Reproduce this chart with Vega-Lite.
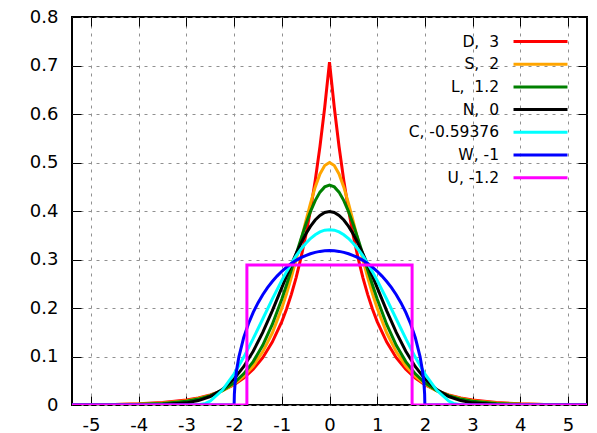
{
"$schema":"https://vega.github.io/schema/vega-lite/v6.json",
"width":515,"height":388,
"autosize":{"type":"none"},
"padding":{"left":72,"top":17,"right":10,"bottom":28},
"background":"white",
"config":{"view":{"stroke":"black","strokeWidth":2},"font":"DejaVu Sans",
"axis":{"labelFont":"DejaVu Sans","labelFontSize":18,"labelColor":"black","tickColor":"black","tickWidth":1,"tickSize":-9,"domain":false,"title":null,"gridColor":"#909090","gridDash":[3,5],"gridWidth":1,"gridOpacity":1}},
"layer":[
{"data":{"values":[{"x":0,"y":0}]},"mark":{"type":"point","opacity":0},
"encoding":{
"x":{"field":"x","type":"quantitative","scale":{"domain":[-5.4,5.4],"nice":false,"zero":false},"axis":{"orient":"top","labels":false,"grid":false,"values":[-5,-4,-3,-2,-1,0,1,2,3,4,5]}},
"y":{"field":"y","type":"quantitative","scale":{"domain":[0,0.8],"nice":false},"axis":{"orient":"right","labels":false,"grid":false,"values":[0,0.1,0.2,0.3,0.4,0.5,0.6,0.7,0.8]}}}},
{"data":{"values":[
{"k":"D","x":-5.4,"y":0.0003},{"k":"D","x":-5,"y":0.0006},{"k":"D","x":-4.5,"y":0.0012},{"k":"D","x":-4,"y":0.0025},{"k":"D","x":-3.5,"y":0.005},{"k":"D","x":-3,"y":0.0102},{"k":"D","x":-2.75,"y":0.0145},{"k":"D","x":-2.5,"y":0.0206},{"k":"D","x":-2.25,"y":0.0294},{"k":"D","x":-2,"y":0.0418},{"k":"D","x":-1.8,"y":0.0555},{"k":"D","x":-1.6,"y":0.0736},{"k":"D","x":-1.4,"y":0.0976},{"k":"D","x":-1.2,"y":0.1296},{"k":"D","x":-1,"y":0.1719},{"k":"D","x":-0.9,"y":0.198},{"k":"D","x":-0.8,"y":0.2281},{"k":"D","x":-0.7,"y":0.2628},{"k":"D","x":-0.6,"y":0.3027},{"k":"D","x":-0.5,"y":0.3487},{"k":"D","x":-0.4,"y":0.4016},{"k":"D","x":-0.3,"y":0.4626},{"k":"D","x":-0.2,"y":0.5329},{"k":"D","x":-0.1,"y":0.6139},{"k":"D","x":0,"y":0.7071},{"k":"D","x":0.1,"y":0.6139},{"k":"D","x":0.2,"y":0.5329},{"k":"D","x":0.3,"y":0.4626},{"k":"D","x":0.4,"y":0.4016},{"k":"D","x":0.5,"y":0.3487},{"k":"D","x":0.6,"y":0.3027},{"k":"D","x":0.7,"y":0.2628},{"k":"D","x":0.8,"y":0.2281},{"k":"D","x":0.9,"y":0.198},{"k":"D","x":1,"y":0.1719},{"k":"D","x":1.2,"y":0.1296},{"k":"D","x":1.4,"y":0.0976},{"k":"D","x":1.6,"y":0.0736},{"k":"D","x":1.8,"y":0.0555},{"k":"D","x":2,"y":0.0418},{"k":"D","x":2.25,"y":0.0294},{"k":"D","x":2.5,"y":0.0206},{"k":"D","x":2.75,"y":0.0145},{"k":"D","x":3,"y":0.0102},{"k":"D","x":3.5,"y":0.005},{"k":"D","x":4,"y":0.0025},{"k":"D","x":4.5,"y":0.0012},{"k":"D","x":5,"y":0.0006},{"k":"D","x":5.4,"y":0.0003},
{"k":"S","x":-5.4,"y":0.0002},{"k":"S","x":-5,"y":0.0004},{"k":"S","x":-4.5,"y":0.0009},{"k":"S","x":-4,"y":0.0019},{"k":"S","x":-3.5,"y":0.0041},{"k":"S","x":-3,"y":0.009},{"k":"S","x":-2.75,"y":0.0133},{"k":"S","x":-2.5,"y":0.0197},{"k":"S","x":-2.25,"y":0.0292},{"k":"S","x":-2,"y":0.0431},{"k":"S","x":-1.8,"y":0.059},{"k":"S","x":-1.6,"y":0.0805},{"k":"S","x":-1.4,"y":0.1096},{"k":"S","x":-1.2,"y":0.1484},{"k":"S","x":-1,"y":0.1993},{"k":"S","x":-0.9,"y":0.2297},{"k":"S","x":-0.8,"y":0.2633},{"k":"S","x":-0.7,"y":0.2998},{"k":"S","x":-0.6,"y":0.3383},{"k":"S","x":-0.5,"y":0.3775},{"k":"S","x":-0.4,"y":0.4153},{"k":"S","x":-0.3,"y":0.4492},{"k":"S","x":-0.2,"y":0.4763},{"k":"S","x":-0.1,"y":0.4939},{"k":"S","x":0,"y":0.5},{"k":"S","x":0.1,"y":0.4939},{"k":"S","x":0.2,"y":0.4763},{"k":"S","x":0.3,"y":0.4492},{"k":"S","x":0.4,"y":0.4153},{"k":"S","x":0.5,"y":0.3775},{"k":"S","x":0.6,"y":0.3383},{"k":"S","x":0.7,"y":0.2998},{"k":"S","x":0.8,"y":0.2633},{"k":"S","x":0.9,"y":0.2297},{"k":"S","x":1,"y":0.1993},{"k":"S","x":1.2,"y":0.1484},{"k":"S","x":1.4,"y":0.1096},{"k":"S","x":1.6,"y":0.0805},{"k":"S","x":1.8,"y":0.059},{"k":"S","x":2,"y":0.0431},{"k":"S","x":2.25,"y":0.0292},{"k":"S","x":2.5,"y":0.0197},{"k":"S","x":2.75,"y":0.0133},{"k":"S","x":3,"y":0.009},{"k":"S","x":3.5,"y":0.0041},{"k":"S","x":4,"y":0.0019},{"k":"S","x":4.5,"y":0.0009},{"k":"S","x":5,"y":0.0004},{"k":"S","x":5.4,"y":0.0002},
{"k":"L","x":-5.4,"y":0.0001},{"k":"L","x":-5,"y":0.0002},{"k":"L","x":-4.5,"y":0.0005},{"k":"L","x":-4,"y":0.0013},{"k":"L","x":-3.5,"y":0.0032},{"k":"L","x":-3,"y":0.0078},{"k":"L","x":-2.75,"y":0.0122},{"k":"L","x":-2.5,"y":0.0191},{"k":"L","x":-2.25,"y":0.0296},{"k":"L","x":-2,"y":0.0457},{"k":"L","x":-1.8,"y":0.0643},{"k":"L","x":-1.6,"y":0.0895},{"k":"L","x":-1.4,"y":0.123},{"k":"L","x":-1.2,"y":0.166},{"k":"L","x":-1,"y":0.2186},{"k":"L","x":-0.9,"y":0.2481},{"k":"L","x":-0.8,"y":0.279},{"k":"L","x":-0.7,"y":0.3106},{"k":"L","x":-0.6,"y":0.3418},{"k":"L","x":-0.5,"y":0.3717},{"k":"L","x":-0.4,"y":0.3987},{"k":"L","x":-0.3,"y":0.4215},{"k":"L","x":-0.2,"y":0.4389},{"k":"L","x":-0.1,"y":0.4497},{"k":"L","x":0,"y":0.4535},{"k":"L","x":0.1,"y":0.4497},{"k":"L","x":0.2,"y":0.4389},{"k":"L","x":0.3,"y":0.4215},{"k":"L","x":0.4,"y":0.3987},{"k":"L","x":0.5,"y":0.3717},{"k":"L","x":0.6,"y":0.3418},{"k":"L","x":0.7,"y":0.3106},{"k":"L","x":0.8,"y":0.279},{"k":"L","x":0.9,"y":0.2481},{"k":"L","x":1,"y":0.2186},{"k":"L","x":1.2,"y":0.166},{"k":"L","x":1.4,"y":0.123},{"k":"L","x":1.6,"y":0.0895},{"k":"L","x":1.8,"y":0.0643},{"k":"L","x":2,"y":0.0457},{"k":"L","x":2.25,"y":0.0296},{"k":"L","x":2.5,"y":0.0191},{"k":"L","x":2.75,"y":0.0122},{"k":"L","x":3,"y":0.0078},{"k":"L","x":3.5,"y":0.0032},{"k":"L","x":4,"y":0.0013},{"k":"L","x":4.5,"y":0.0005},{"k":"L","x":5,"y":0.0002},{"k":"L","x":5.4,"y":0.0001},
{"k":"N","x":-5.4,"y":0},{"k":"N","x":-5,"y":0},{"k":"N","x":-4.5,"y":0},{"k":"N","x":-4,"y":0.0001},{"k":"N","x":-3.5,"y":0.0009},{"k":"N","x":-3,"y":0.0044},{"k":"N","x":-2.75,"y":0.0091},{"k":"N","x":-2.5,"y":0.0175},{"k":"N","x":-2.25,"y":0.0317},{"k":"N","x":-2,"y":0.054},{"k":"N","x":-1.8,"y":0.079},{"k":"N","x":-1.6,"y":0.1109},{"k":"N","x":-1.4,"y":0.1497},{"k":"N","x":-1.2,"y":0.1942},{"k":"N","x":-1,"y":0.242},{"k":"N","x":-0.9,"y":0.2661},{"k":"N","x":-0.8,"y":0.2897},{"k":"N","x":-0.7,"y":0.3123},{"k":"N","x":-0.6,"y":0.3332},{"k":"N","x":-0.5,"y":0.3521},{"k":"N","x":-0.4,"y":0.3683},{"k":"N","x":-0.3,"y":0.3814},{"k":"N","x":-0.2,"y":0.391},{"k":"N","x":-0.1,"y":0.397},{"k":"N","x":0,"y":0.3989},{"k":"N","x":0.1,"y":0.397},{"k":"N","x":0.2,"y":0.391},{"k":"N","x":0.3,"y":0.3814},{"k":"N","x":0.4,"y":0.3683},{"k":"N","x":0.5,"y":0.3521},{"k":"N","x":0.6,"y":0.3332},{"k":"N","x":0.7,"y":0.3123},{"k":"N","x":0.8,"y":0.2897},{"k":"N","x":0.9,"y":0.2661},{"k":"N","x":1,"y":0.242},{"k":"N","x":1.2,"y":0.1942},{"k":"N","x":1.4,"y":0.1497},{"k":"N","x":1.6,"y":0.1109},{"k":"N","x":1.8,"y":0.079},{"k":"N","x":2,"y":0.054},{"k":"N","x":2.25,"y":0.0317},{"k":"N","x":2.5,"y":0.0175},{"k":"N","x":2.75,"y":0.0091},{"k":"N","x":3,"y":0.0044},{"k":"N","x":3.5,"y":0.0009},{"k":"N","x":4,"y":0.0001},{"k":"N","x":4.5,"y":0},{"k":"N","x":5,"y":0},{"k":"N","x":5.4,"y":0},
{"k":"C","x":-5.4,"y":0},{"k":"C","x":-2.766,"y":0},{"k":"C","x":-2.6,"y":0.0032},{"k":"C","x":-2.5,"y":0.0082},{"k":"C","x":-2.25,"y":0.0302},{"k":"C","x":-2,"y":0.0642},{"k":"C","x":-1.8,"y":0.0983},{"k":"C","x":-1.6,"y":0.1367},{"k":"C","x":-1.4,"y":0.1773},{"k":"C","x":-1.2,"y":0.2181},{"k":"C","x":-1,"y":0.2569},{"k":"C","x":-0.9,"y":0.275},{"k":"C","x":-0.8,"y":0.2919},{"k":"C","x":-0.7,"y":0.3073},{"k":"C","x":-0.6,"y":0.3211},{"k":"C","x":-0.5,"y":0.3331},{"k":"C","x":-0.4,"y":0.3432},{"k":"C","x":-0.3,"y":0.3511},{"k":"C","x":-0.2,"y":0.3569},{"k":"C","x":-0.1,"y":0.3604},{"k":"C","x":0,"y":0.3615},{"k":"C","x":0.1,"y":0.3604},{"k":"C","x":0.2,"y":0.3569},{"k":"C","x":0.3,"y":0.3511},{"k":"C","x":0.4,"y":0.3432},{"k":"C","x":0.5,"y":0.3331},{"k":"C","x":0.6,"y":0.3211},{"k":"C","x":0.7,"y":0.3073},{"k":"C","x":0.8,"y":0.2919},{"k":"C","x":0.9,"y":0.275},{"k":"C","x":1,"y":0.2569},{"k":"C","x":1.2,"y":0.2181},{"k":"C","x":1.4,"y":0.1773},{"k":"C","x":1.6,"y":0.1367},{"k":"C","x":1.8,"y":0.0983},{"k":"C","x":2,"y":0.0642},{"k":"C","x":2.25,"y":0.0302},{"k":"C","x":2.5,"y":0.0082},{"k":"C","x":2.6,"y":0.0032},{"k":"C","x":2.766,"y":0},{"k":"C","x":5.4,"y":0},
{"k":"W","x":-5.4,"y":0},{"k":"W","x":-2,"y":0},{"k":"W","x":-1.995,"y":0.0225},{"k":"W","x":-1.98,"y":0.0449},{"k":"W","x":-1.95,"y":0.0707},{"k":"W","x":-1.9,"y":0.0994},{"k":"W","x":-1.8,"y":0.1388},{"k":"W","x":-1.7,"y":0.1677},{"k":"W","x":-1.6,"y":0.191},{"k":"W","x":-1.5,"y":0.2105},{"k":"W","x":-1.4,"y":0.2273},{"k":"W","x":-1.3,"y":0.2419},{"k":"W","x":-1.2,"y":0.2546},{"k":"W","x":-1.1,"y":0.2658},{"k":"W","x":-1,"y":0.2757},{"k":"W","x":-0.9,"y":0.2843},{"k":"W","x":-0.8,"y":0.2917},{"k":"W","x":-0.7,"y":0.2982},{"k":"W","x":-0.6,"y":0.3037},{"k":"W","x":-0.5,"y":0.3082},{"k":"W","x":-0.4,"y":0.3119},{"k":"W","x":-0.3,"y":0.3147},{"k":"W","x":-0.2,"y":0.3167},{"k":"W","x":-0.1,"y":0.3179},{"k":"W","x":0,"y":0.3183},{"k":"W","x":0.1,"y":0.3179},{"k":"W","x":0.2,"y":0.3167},{"k":"W","x":0.3,"y":0.3147},{"k":"W","x":0.4,"y":0.3119},{"k":"W","x":0.5,"y":0.3082},{"k":"W","x":0.6,"y":0.3037},{"k":"W","x":0.7,"y":0.2982},{"k":"W","x":0.8,"y":0.2917},{"k":"W","x":0.9,"y":0.2843},{"k":"W","x":1,"y":0.2757},{"k":"W","x":1.1,"y":0.2658},{"k":"W","x":1.2,"y":0.2546},{"k":"W","x":1.3,"y":0.2419},{"k":"W","x":1.4,"y":0.2273},{"k":"W","x":1.5,"y":0.2105},{"k":"W","x":1.6,"y":0.191},{"k":"W","x":1.7,"y":0.1677},{"k":"W","x":1.8,"y":0.1388},{"k":"W","x":1.9,"y":0.0994},{"k":"W","x":1.95,"y":0.0707},{"k":"W","x":1.98,"y":0.0449},{"k":"W","x":1.995,"y":0.0225},{"k":"W","x":2,"y":0},{"k":"W","x":5.4,"y":0},
{"k":"U","x":-5.4,"y":0},{"k":"U","x":-1.7321,"y":0},{"k":"U","x":-1.732,"y":0.2887},{"k":"U","x":1.732,"y":0.2887},{"k":"U","x":1.7321,"y":0},{"k":"U","x":5.4,"y":0}
]},
"mark":{"type":"line","strokeWidth":3,"clip":true},
"encoding":{
"x":{"field":"x","type":"quantitative","scale":{"domain":[-5.4,5.4],"nice":false,"zero":false},"axis":{"orient":"bottom","grid":true,"values":[-5,-4,-3,-2,-1,0,1,2,3,4,5],"labelPadding":20,"labelExpr":"datum.value + ''"}},
"y":{"field":"y","type":"quantitative","scale":{"domain":[0,0.8],"nice":false},"axis":{"orient":"left","grid":true,"values":[0,0.1,0.2,0.3,0.4,0.5,0.6,0.7,0.8],"labelPadding":23,"labelExpr":"datum.value == 0 ? '0' : format(datum.value, '.1f')"}},
"color":{"field":"k","type":"nominal","scale":{"domain":["D","S","L","N","C","W","U"],"range":["#ff0000","#ffa500","#008000","#000000","#00ffff","#0000ff","#ff00ff"]},
"legend":{"title":null,"orient":"none","legendX":456,"legendY":12,"padding":0,"symbolType":"M-2.5,0H2.5","symbolSize":466,"symbolStrokeWidth":3,"labelAlign":"right","labelOffset":-54,"labelFont":"DejaVu Sans","labelFontSize":15.5,"labelColor":"black","rowPadding":1.7,
"labelExpr":"{'D':'D,\u00a0 3','S':'S,\u00a0 2','L':'L,\u00a0 1.2','N':'N,\u00a0 0','C':'C, -0.59376','W':'W, -1','U':'U, -1.2'}[datum.label]"}}}}
],
"resolve":{"axis":{"x":"independent","y":"independent"}}
}
